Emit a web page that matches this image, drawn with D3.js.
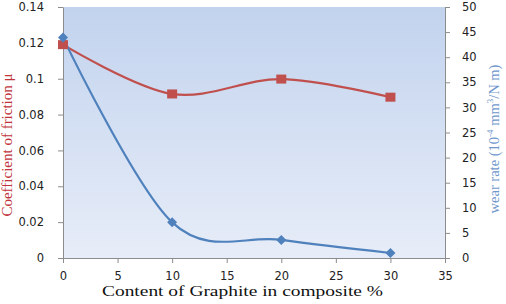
<!DOCTYPE html>
<html>
<head>
<meta charset="utf-8">
<script src="https://cdn.jsdelivr.net/npm/d3@7"></script>
<style>
  body { margin: 0; background: #fff; }
  .tick text { font-family: "DejaVu Sans", sans-serif; font-size: 11.5px; fill: #222; }
  .axis path, .axis line { stroke: #8c8c8c; }
  .title { font-family: "Liberation Serif", "DejaVu Serif", serif; }
</style>
</head>
<body>
<script>
// data
const graphite = [0, 10, 20, 30];
const friction = [0.119, 0.0915, 0.0998, 0.0897];
const wearRate = [43.9, 7.1, 3.6, 1.0];
const xTicks = [0, 5, 10, 15, 20, 25, 30, 35];
const leftTicks = [0, 0.02, 0.04, 0.06, 0.08, 0.1, 0.12, 0.14];
const rightTicks = [0, 5, 10, 15, 20, 25, 30, 35, 40, 45, 50];

const width = 506;
const height = 304;
const margin = { top: 7, right: 61, bottom: 46, left: 63 };
const plotW = width - margin.left - margin.right;
const plotH = height - margin.top - margin.bottom;

const svg = d3.select("body").append("svg")
  .attr("width", width)
  .attr("height", height);

// plot area gradient
const grad = svg.append("defs").append("linearGradient")
  .attr("id", "bg")
  .attr("x1", 0).attr("y1", 0).attr("x2", 0).attr("y2", 1);
grad.append("stop").attr("offset", "0%").attr("stop-color", "#c2d3ee");
grad.append("stop").attr("offset", "100%").attr("stop-color", "#e7edf8");

const g = svg.append("g")
  .attr("transform", `translate(${margin.left},${margin.top})`);

g.append("rect")
  .attr("width", plotW)
  .attr("height", plotH)
  .attr("fill", "url(#bg)");

const x = d3.scaleLinear().domain([0, 35]).range([0, plotW]);
const yL = d3.scaleLinear().domain([0, 0.14]).range([plotH, 0]);
const yR = d3.scaleLinear().domain([0, 50]).range([plotH, 0]);

// axes
g.append("g")
  .attr("class", "axis")
  .attr("transform", `translate(0,${plotH})`)
  .call(d3.axisBottom(x).tickValues(xTicks).tickSize(5).tickSizeOuter(0).tickPadding(7))
  .selectAll("text").attr("dy", "0.9em");

g.append("g")
  .attr("class", "axis")
  .call(d3.axisLeft(yL).tickValues(leftTicks).tickSize(5).tickSizeOuter(0).tickPadding(14)
    .tickFormat(d => d === 0 ? "0" : d3.format("")(+d.toFixed(2))));

g.append("g")
  .attr("class", "axis")
  .attr("transform", `translate(${plotW},0)`)
  .call(d3.axisRight(yR).tickValues(rightTicks).tickSize(5).tickSizeOuter(0).tickPadding(12));

// lines (Excel-style smoothing = uniform Catmull-Rom)
const pts1 = graphite.map((d, i) => [x(d), yL(friction[i])]);
const pts2 = graphite.map((d, i) => [x(d), yR(wearRate[i])]);
const line = d3.line().curve(d3.curveCardinal.tension(0));

g.append("path")
  .attr("d", line(pts1))
  .attr("fill", "none")
  .attr("stroke", "#c0504d")
  .attr("stroke-width", 2.2);

g.append("path")
  .attr("d", line(pts2))
  .attr("fill", "none")
  .attr("stroke", "#4f81bd")
  .attr("stroke-width", 2.2);

// markers
g.selectAll("rect.sq").data(pts1).enter().append("rect")
  .attr("class", "sq")
  .attr("x", d => d[0] - 5)
  .attr("y", d => d[1] - 4.5)
  .attr("width", 10)
  .attr("height", 9)
  .attr("fill", "#c0504d");

g.selectAll("path.dia").data(pts2).enter().append("path")
  .attr("class", "dia")
  .attr("d", d3.symbol(d3.symbolDiamond2, 64))
  .attr("transform", d => `translate(${d[0]},${d[1]})`)
  .attr("fill", "#4f81bd");

// titles
svg.append("text")
  .attr("class", "title")
  .attr("x", 102)
  .attr("y", 296)
  .attr("font-size", 15)
  .attr("textLength", 281)
  .attr("lengthAdjust", "spacingAndGlyphs")
  .attr("fill", "#111")
  .text("Content of Graphite in composite %");

svg.append("text")
  .attr("class", "title")
  .attr("transform", "translate(12,145) rotate(-90)")
  .attr("text-anchor", "middle")
  .attr("font-size", 15)
  .attr("fill", "#c0333a")
  .text("Coefficient of friction μ");

const rt = svg.append("text")
  .attr("class", "title")
  .attr("transform", "translate(499,139) rotate(-90)")
  .attr("text-anchor", "middle")
  .attr("font-size", 14.5)
  .attr("fill", "#6f97cc");
rt.append("tspan").text("wear rate (10");
rt.append("tspan").attr("font-size", 9).attr("dy", -6).text("-4");
rt.append("tspan").attr("dy", 6).text(" mm");
rt.append("tspan").attr("font-size", 9).attr("dy", -6).text("3");
rt.append("tspan").attr("dy", 6).text("/N m)");
</script>
</body>
</html>
